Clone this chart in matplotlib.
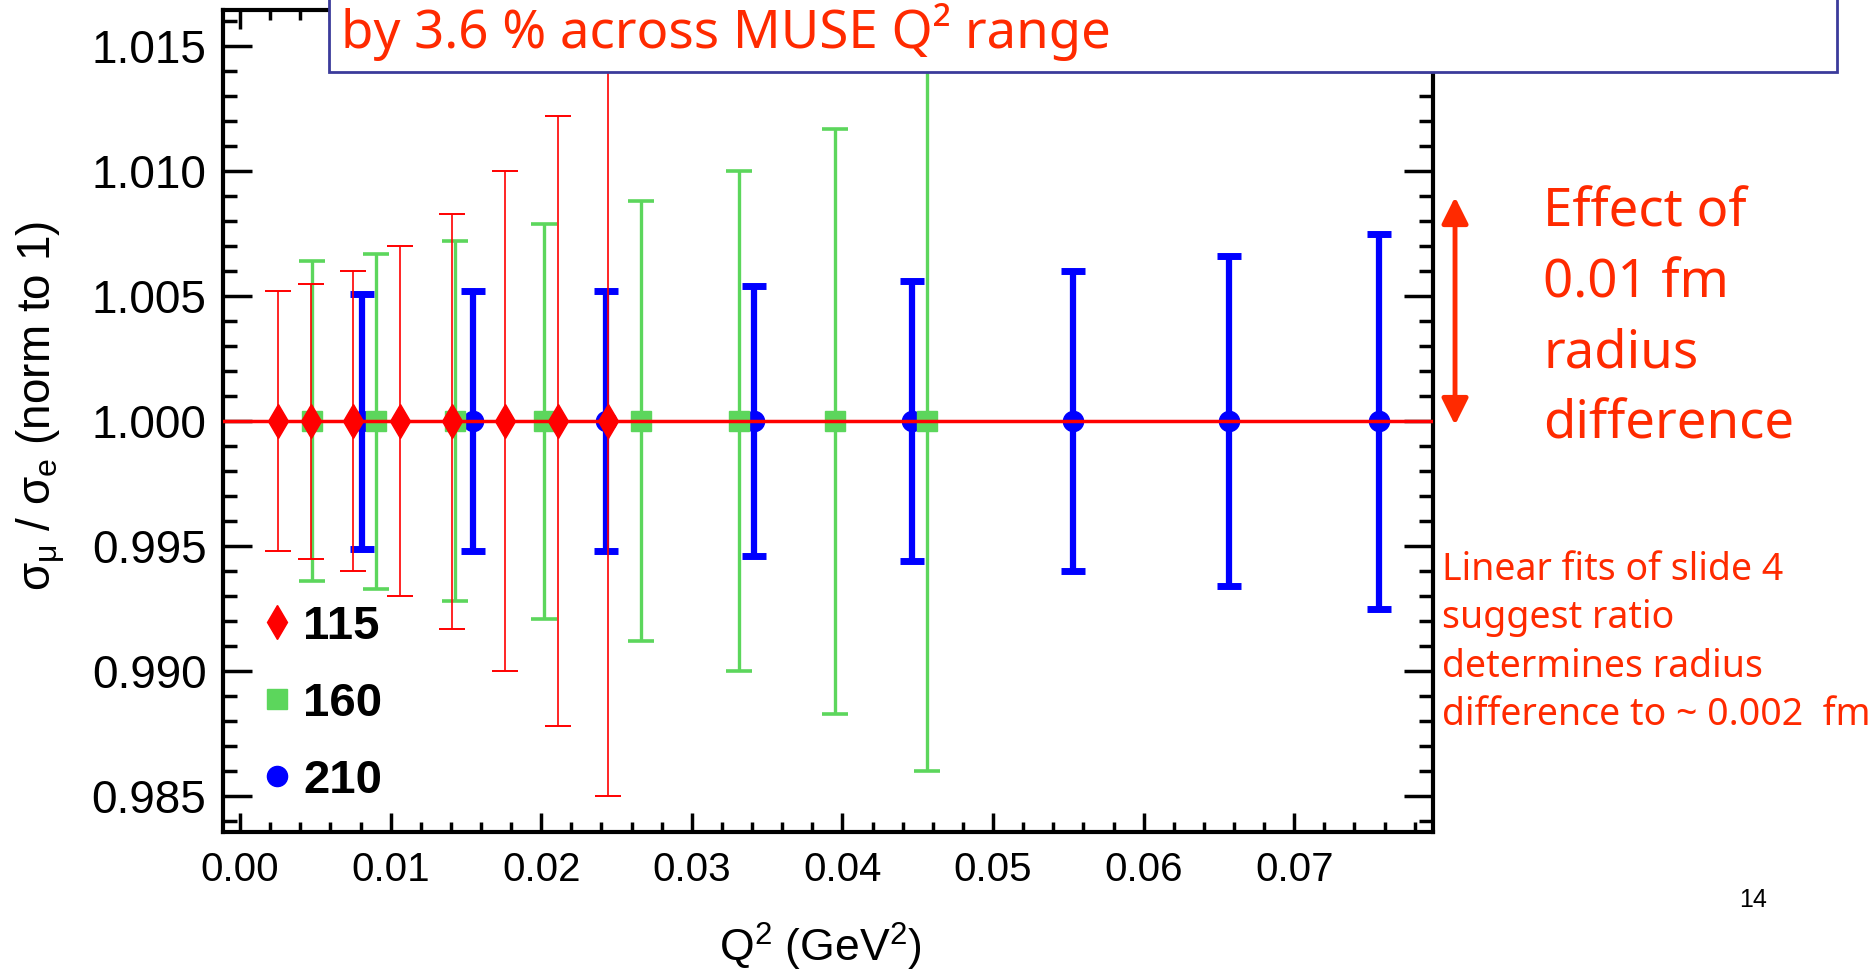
import matplotlib

matplotlib.use("Agg")

import matplotlib.pyplot as plt
from matplotlib.lines import Line2D
from matplotlib.patches import Rectangle
from matplotlib.ticker import MultipleLocator, FormatStrFormatter

# sigma_mu / sigma_e ratio, all normalised to 1, per beam momentum (MeV/c)
q2_115 = [0.0025, 0.0047, 0.0075, 0.0106, 0.0141, 0.0176, 0.0211, 0.0244]
err_115 = [0.0052, 0.0055, 0.0060, 0.0070, 0.0083, 0.0100, 0.0122, 0.0150]

q2_160 = [0.0048, 0.0090, 0.0143, 0.0202, 0.0266, 0.0331, 0.0395, 0.0456]
err_160 = [0.0064, 0.0067, 0.0072, 0.0079, 0.0088, 0.0100, 0.0117, 0.0140]

q2_210 = [0.0081, 0.0155, 0.0243, 0.0341, 0.0446, 0.0553, 0.0657, 0.0756]
err_210 = [0.0051, 0.0052, 0.0052, 0.0054, 0.0056, 0.0060, 0.0066, 0.0075]

ratio_115 = [1.0] * len(q2_115)
ratio_160 = [1.0] * len(q2_160)
ratio_210 = [1.0] * len(q2_210)

legend_labels = ["115", "160", "210"]

RED = "#ff0000"
GREEN = "#5cd65c"
BLUE = "#0000ff"
NOTE = "#ff2a00"

plt.rcParams["font.family"] = ["Liberation Sans", "DejaVu Sans"]
plt.rcParams["mathtext.fontset"] = "custom"
plt.rcParams["mathtext.rm"] = "Liberation Sans"
plt.rcParams["mathtext.it"] = "Liberation Sans"

fig = plt.figure(figsize=(18.76, 9.73), dpi=100)
ax = fig.add_axes([0.1189, 0.1449, 0.645, 0.8448])

ax.errorbar(q2_210, ratio_210, yerr=err_210, fmt="o", color=BLUE, ms=14.5,
            elinewidth=4.5, capsize=8.6, capthick=5, zorder=2)
ax.errorbar(q2_160, ratio_160, yerr=err_160, fmt="s", color=GREEN, ms=15,
            elinewidth=2.4, capsize=9.2, capthick=2.6, zorder=3)
ax.axhline(1.0, color=RED, lw=2.5, zorder=4)
ax.errorbar(q2_115, ratio_115, yerr=err_115, fmt="d", color=RED, ms=17,
            elinewidth=1.2, capsize=9.2, capthick=1.4, zorder=5)

ax.set_xlim(-0.00113, 0.07922)
ax.set_ylim(0.98356, 1.01644)

ax.xaxis.set_major_locator(MultipleLocator(0.01))
ax.xaxis.set_minor_locator(MultipleLocator(0.002))
ax.yaxis.set_major_locator(MultipleLocator(0.005))
ax.yaxis.set_minor_locator(MultipleLocator(0.001))
ax.xaxis.set_major_formatter(FormatStrFormatter("%.2f"))
ax.yaxis.set_major_formatter(FormatStrFormatter("%.3f"))

for side in ax.spines.values():
    side.set_linewidth(3)
ax.tick_params(axis="both", which="both", direction="in", top=True, right=True, width=2.5)
ax.tick_params(axis="x", which="major", length=14, labelsize=29, pad=14)
ax.tick_params(axis="x", which="minor", length=7)
ax.tick_params(axis="y", which="major", length=21, labelsize=33, pad=12)
ax.tick_params(axis="y", which="minor", length=10)

ax.set_ylabel(r"$\sigma_{\mu}$ / $\sigma_{e}$ (norm to 1)", fontsize=33)
ax.yaxis.set_label_coords(-0.128, 0.518)
ax.set_xlabel(r"Q$^{2}$ (GeV$^{2}$)", fontsize=32)
ax.xaxis.set_label_coords(0.494, -0.108)

handles = [
    Line2D([], [], marker="d", color=RED, ls="none", ms=17),
    Line2D([], [], marker="s", color=GREEN, ls="none", ms=15),
    Line2D([], [], marker="o", color=BLUE, ls="none", ms=14.5),
]
ax.legend(handles, legend_labels, loc="lower left", bbox_to_anchor=(-0.006, -0.016),
          frameon=False, handlelength=0.8, handletextpad=0.15, labelspacing=0.7,
          prop={"size": 34, "weight": "bold"})

# title box cut off at the top of the slide
fig.add_artist(Rectangle((0.1754, 0.926), 0.8036, 0.2, transform=fig.transFigure,
                         facecolor="white", edgecolor="#3b3b9b", lw=2, zorder=10))
fig.text(0.1818, 0.951, "by 3.6 % across MUSE Q² range", color=NOTE, fontsize=38,
         family="Noto Sans", va="baseline", zorder=11)

ax.annotate("", xy=(0.7756, 0.5632), xytext=(0.7756, 0.7975),
            xycoords="figure fraction", textcoords="figure fraction",
            arrowprops=dict(arrowstyle="<|-|>", color=NOTE, lw=3.5,
                            mutation_scale=40, shrinkA=0, shrinkB=0))

effect_lines = ["Effect of", "0.01 fm", "radius", "difference"]
for i, line in enumerate(effect_lines):
    fig.text(0.8225, 0.781 - i * 0.0725, line, color=NOTE, fontsize=38,
             family="Noto Sans", va="center")

fit_lines = ["Linear fits of slide 4", "suggest ratio", "determines radius",
             "difference to ~ 0.002  fm"]
for i, line in enumerate(fit_lines):
    fig.text(0.7687, 0.414 - i * 0.0495, line, color=NOTE, fontsize=27,
             family="Noto Sans", va="center")

fig.text(0.9343, 0.075, "14", fontsize=18, color="black", ha="center", va="center")

fig.savefig("out.png", dpi=100)
